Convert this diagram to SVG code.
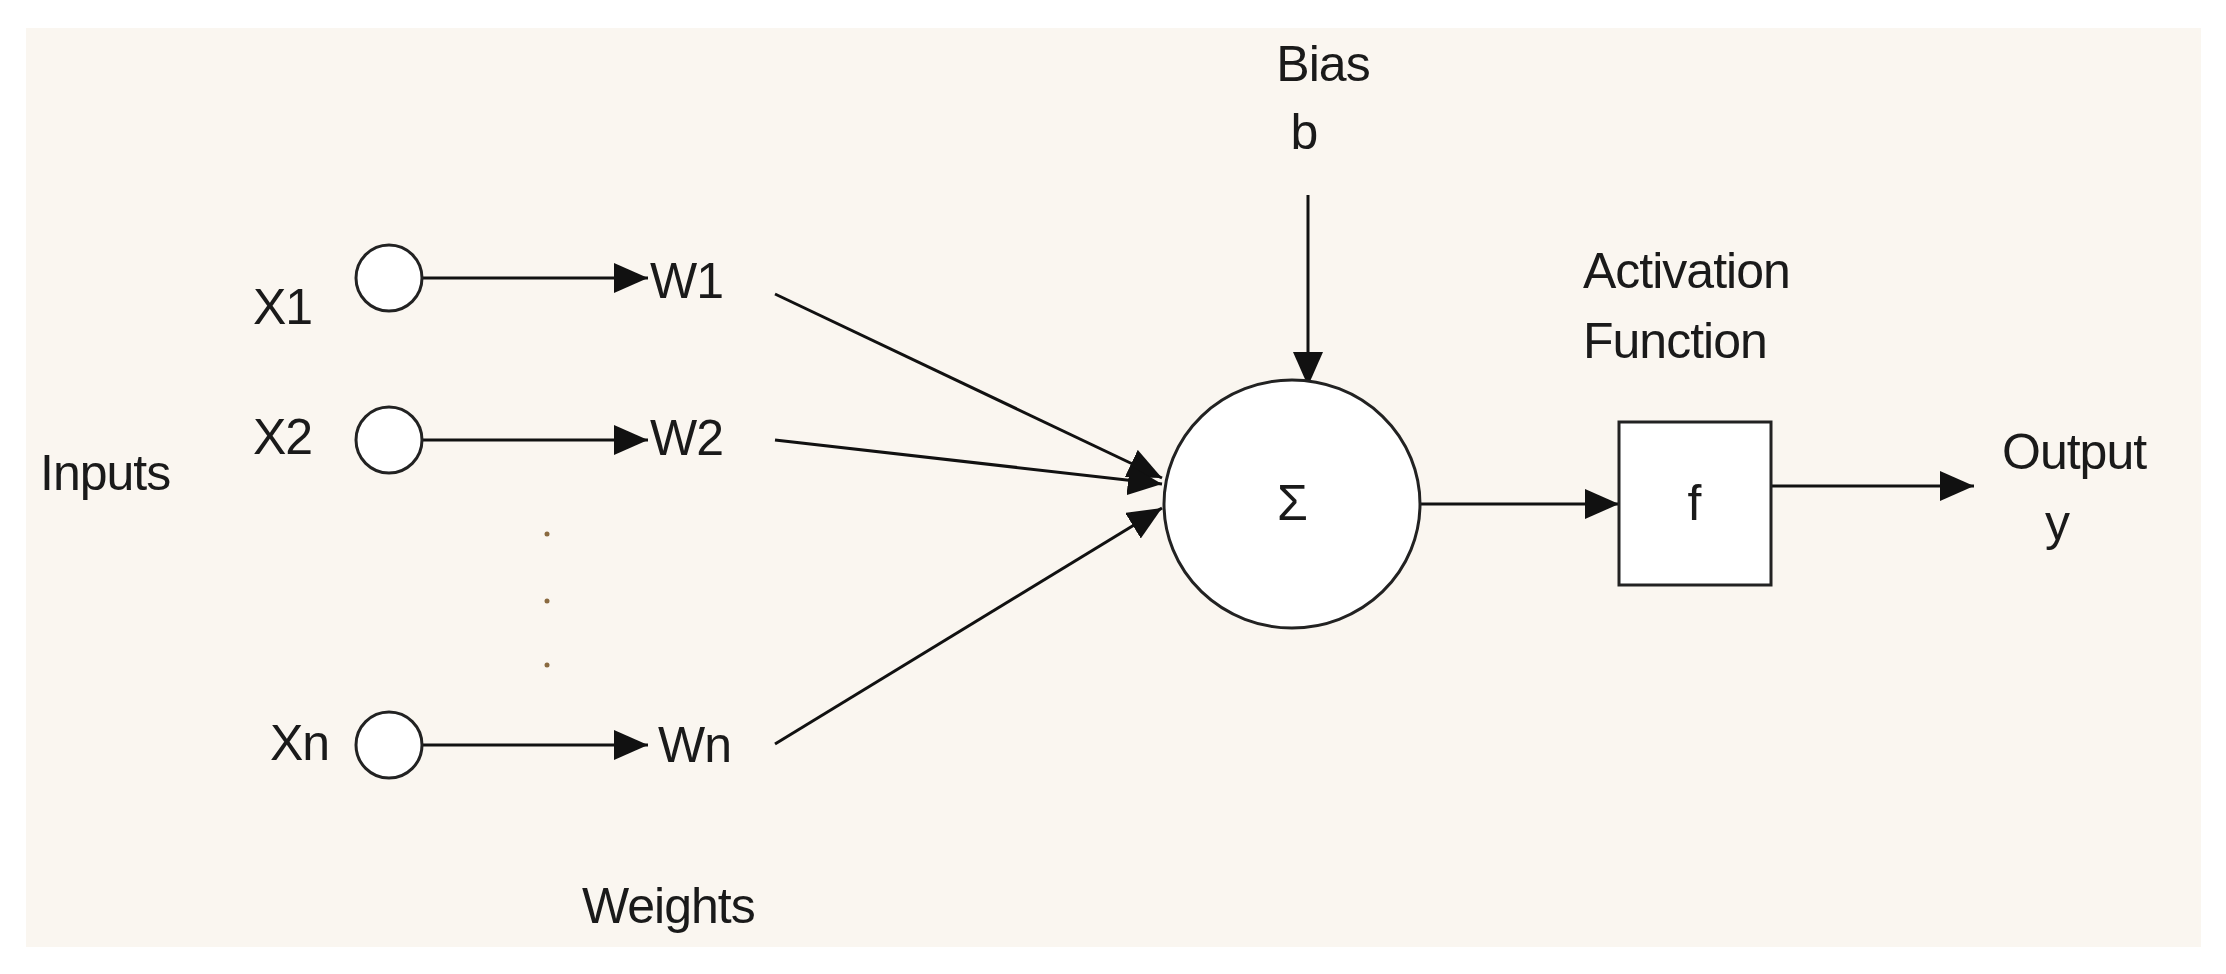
<svg xmlns="http://www.w3.org/2000/svg" width="2226" height="974" viewBox="0 0 2226 974">
<style>
text{font-family:"Liberation Sans",Arial,sans-serif;font-size:50px;fill:#1a1a1a;letter-spacing:-1px}
.n{fill:#fff;stroke:#222;stroke-width:3}
.c{stroke:#111;stroke-width:3;fill:none}
</style>
<defs>
<marker id="b" viewBox="0 0 10 10" refX="10" refY="5" markerWidth="34" markerHeight="30" markerUnits="userSpaceOnUse" orient="auto" preserveAspectRatio="none"><path d="M0,0L10,5L0,10z" fill="#111"/></marker></defs>
<rect width="2226" height="974" fill="#fff"/>
<rect x="26" y="28" width="2175" height="919" fill="#faf6f0"/>
<g id="connectors">
<line class="c" x1="422" y1="278" x2="648" y2="278" marker-end="url(#b)"/>
<line class="c" x1="422" y1="440" x2="648" y2="440" marker-end="url(#b)"/>
<line class="c" x1="422" y1="745" x2="648" y2="745" marker-end="url(#b)"/>
<line class="c" x1="775" y1="294" x2="1162" y2="478" marker-end="url(#b)"/>
<line class="c" x1="775" y1="440" x2="1162" y2="484" marker-end="url(#b)"/>
<line class="c" x1="775" y1="744" x2="1162" y2="508" marker-end="url(#b)"/>
<line class="c" x1="1308" y1="195" x2="1308" y2="386" marker-end="url(#b)"/>
<line class="c" x1="1420" y1="504" x2="1619" y2="504" marker-end="url(#b)"/>
<line class="c" x1="1771" y1="486" x2="1974" y2="486" marker-end="url(#b)"/>
</g>
<g id="x1"><circle class="n" cx="389" cy="278" r="33"/><text x="253" y="324">X1</text></g>
<g id="x2"><circle class="n" cx="389" cy="440" r="33"/><text x="253" y="454">X2</text></g>
<g id="xn"><circle class="n" cx="389" cy="745" r="33"/><text x="270" y="760">Xn</text></g>
<g id="w1"><text x="650" y="298">W1</text></g>
<g id="w2"><text x="650" y="455">W2</text></g>
<g id="wn"><text x="658" y="762">Wn</text></g>
<g id="dots" fill="#8a6a40"><circle cx="547" cy="534" r="2.5"/><circle cx="547" cy="601" r="2.5"/><circle cx="547" cy="665" r="2.5"/></g>
<g id="sum"><ellipse class="n" cx="1292" cy="504" rx="128" ry="124"/><text x="1292" y="520" text-anchor="middle" font-size="46">Σ</text></g>
<g id="bias"><text x="1323" y="81" text-anchor="middle">Bias</text><text x="1304" y="149" text-anchor="middle">b</text></g>
<g id="f"><rect class="n" x="1619" y="422" width="152" height="163"/><text x="1694" y="520" text-anchor="middle">f</text></g>
<g id="labels">
<text x="40" y="490">Inputs</text>
<text x="582" y="923">Weights</text>
<text x="1583" y="288">Activation</text>
<text x="1583" y="358">Function</text>
<text x="2002" y="469">Output</text>
<text x="2045" y="540">y</text>
</g>
</svg>
